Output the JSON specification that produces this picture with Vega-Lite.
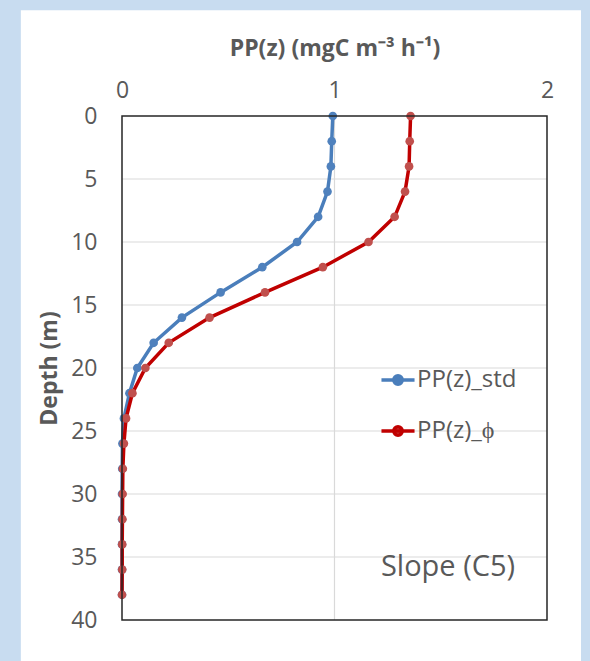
{
  "$schema": "https://vega.github.io/schema/vega-lite/v6.json",
  "width": 425,
  "height": 504,
  "autosize": "none",
  "padding": {"left": 122, "top": 116, "right": 43, "bottom": 41},
  "background": "#c8dcf0",
  "config": {
    "font": "Open Sans",
    "view": {"stroke": null, "fill": "white"},
    "axis": {"labelColor": "#595959", "titleColor": "#595959", "labelFontSize": 23, "ticks": false, "domain": false, "grid": false, "titleFontWeight": "bold", "labelOverlap": false},
    "legend": {"orient": "none", "legendX": 261, "legendY": 249, "direction": "vertical", "padding": 0, "labelFontSize": 24, "labelColor": "#595959", "labelFont": "Open Sans", "labelOffset": 4, "symbolType": "M-1.25,0H1.25M-0.32,0A0.32,0.32 0 1,1 0.32,0A0.32,0.32 0 1,1 -0.32,0Z", "symbolSize": 700, "symbolStrokeWidth": 3.5, "rowPadding": 24, "titlePadding": 0, "zindex": 1}
  },
  "datasets": {
    "profiles": [
      {"depth": 0, "pp": 0.992, "series": "PP(z)_std"},
      {"depth": 2, "pp": 0.987, "series": "PP(z)_std"},
      {"depth": 4, "pp": 0.983, "series": "PP(z)_std"},
      {"depth": 6, "pp": 0.967, "series": "PP(z)_std"},
      {"depth": 8, "pp": 0.923, "series": "PP(z)_std"},
      {"depth": 10, "pp": 0.824, "series": "PP(z)_std"},
      {"depth": 12, "pp": 0.660, "series": "PP(z)_std"},
      {"depth": 14, "pp": 0.464, "series": "PP(z)_std"},
      {"depth": 16, "pp": 0.282, "series": "PP(z)_std"},
      {"depth": 18, "pp": 0.149, "series": "PP(z)_std"},
      {"depth": 20, "pp": 0.072, "series": "PP(z)_std"},
      {"depth": 22, "pp": 0.035, "series": "PP(z)_std"},
      {"depth": 24, "pp": 0.009, "series": "PP(z)_std"},
      {"depth": 26, "pp": 0.002, "series": "PP(z)_std"},
      {"depth": 28, "pp": 0.001, "series": "PP(z)_std"},
      {"depth": 30, "pp": 0.0, "series": "PP(z)_std"},
      {"depth": 32, "pp": 0.0, "series": "PP(z)_std"},
      {"depth": 34, "pp": 0.0, "series": "PP(z)_std"},
      {"depth": 36, "pp": 0.0, "series": "PP(z)_std"},
      {"depth": 38, "pp": 0.0, "series": "PP(z)_std"},
      {"depth": 0, "pp": 1.358, "series": "PP(z)_ϕ"},
      {"depth": 2, "pp": 1.354, "series": "PP(z)_ϕ"},
      {"depth": 4, "pp": 1.351, "series": "PP(z)_ϕ"},
      {"depth": 6, "pp": 1.332, "series": "PP(z)_ϕ"},
      {"depth": 8, "pp": 1.283, "series": "PP(z)_ϕ"},
      {"depth": 10, "pp": 1.160, "series": "PP(z)_ϕ"},
      {"depth": 12, "pp": 0.945, "series": "PP(z)_ϕ"},
      {"depth": 14, "pp": 0.673, "series": "PP(z)_ϕ"},
      {"depth": 16, "pp": 0.412, "series": "PP(z)_ϕ"},
      {"depth": 18, "pp": 0.220, "series": "PP(z)_ϕ"},
      {"depth": 20, "pp": 0.110, "series": "PP(z)_ϕ"},
      {"depth": 22, "pp": 0.049, "series": "PP(z)_ϕ"},
      {"depth": 24, "pp": 0.019, "series": "PP(z)_ϕ"},
      {"depth": 26, "pp": 0.009, "series": "PP(z)_ϕ"},
      {"depth": 28, "pp": 0.004, "series": "PP(z)_ϕ"},
      {"depth": 30, "pp": 0.003, "series": "PP(z)_ϕ"},
      {"depth": 32, "pp": 0.002, "series": "PP(z)_ϕ"},
      {"depth": 34, "pp": 0.001, "series": "PP(z)_ϕ"},
      {"depth": 36, "pp": 0.001, "series": "PP(z)_ϕ"},
      {"depth": 38, "pp": 0.0, "series": "PP(z)_ϕ"}
    ]
  },
  "layer": [
    {
      "data": {"values": [{"panel": "bg"}]},
      "mark": {"type": "rect", "fill": "white"},
      "encoding": {
        "x": {"datum": -0.476, "type": "quantitative", "scale": {"domain": [0, 2], "nice": false, "zero": false}},
        "x2": {"datum": 2.16},
        "y": {"datum": -8.4, "type": "quantitative", "scale": {"domain": [0, 40], "reverse": true, "nice": false, "zero": false}},
        "y2": {"datum": 44}
      }
    },
    {
      "data": {"values": [{"depth": 5}, {"depth": 10}, {"depth": 15}, {"depth": 20}, {"depth": 25}, {"depth": 30}, {"depth": 35}]},
      "mark": {"type": "rule", "color": "#d9d9d9", "strokeWidth": 1.2},
      "encoding": {
        "y": {"field": "depth", "type": "quantitative"}
      }
    },
    {
      "data": {"values": [{"pp": 1}]},
      "mark": {"type": "rule", "color": "#d9d9d9", "strokeWidth": 1.2},
      "encoding": {
        "x": {"field": "pp", "type": "quantitative"}
      }
    },
    {
      "data": {"name": "profiles"},
      "transform": [{"filter": "datum.series === 'PP(z)_std'"}],
      "mark": {"type": "line", "strokeWidth": 3.5},
      "encoding": {
        "x": {"field": "pp", "type": "quantitative",
          "axis": {"orient": "top", "zindex": 1, "values": [0, 1, 2], "labelExpr": "'' + datum.value", "title": "PP(z) (mgC m⁻³ h⁻¹)", "titleFontSize": 23, "labelPadding": 14, "titlePadding": 19, "labelFlush": false, "labelOverlap": false}},
        "y": {"field": "depth", "type": "quantitative",
          "axis": {"zindex": 1, "values": [0, 5, 10, 15, 20, 25, 30, 35, 40], "title": "Depth (m)", "titleFontSize": 23, "labelPadding": 25, "titlePadding": 9, "labelOverlap": false}},
        "order": {"field": "depth"},
        "stroke": {"field": "series", "type": "nominal", "scale": {"domain": ["PP(z)_std", "PP(z)_ϕ"], "range": ["#4a7ebb", "#c00000"]}, "legend": {"title": null}}
      }
    },
    {
      "data": {"name": "profiles"},
      "transform": [{"filter": "datum.series === 'PP(z)_std'"}],
      "mark": {"type": "point", "filled": true, "size": 75, "opacity": 1},
      "encoding": {
        "x": {"field": "pp", "type": "quantitative"},
        "y": {"field": "depth", "type": "quantitative"},
        "fill": {"field": "series", "type": "nominal", "scale": {"domain": ["PP(z)_std", "PP(z)_ϕ"], "range": ["#4f81bd", "#c0504d"]}, "legend": {"title": null}}
      }
    },
    {
      "data": {"name": "profiles"},
      "transform": [{"filter": "datum.series === 'PP(z)_ϕ'"}],
      "mark": {"type": "line", "strokeWidth": 3.5},
      "encoding": {
        "x": {"field": "pp", "type": "quantitative"},
        "y": {"field": "depth", "type": "quantitative"},
        "order": {"field": "depth"},
        "stroke": {"field": "series", "type": "nominal", "legend": {"title": null}}
      }
    },
    {
      "data": {"name": "profiles"},
      "transform": [{"filter": "datum.series === 'PP(z)_ϕ'"}],
      "mark": {"type": "point", "filled": true, "size": 75, "opacity": 1},
      "encoding": {
        "x": {"field": "pp", "type": "quantitative"},
        "y": {"field": "depth", "type": "quantitative"},
        "fill": {"field": "series", "type": "nominal", "legend": {"title": null}}
      }
    },
    {
      "data": {"values": [{"frame": "plot"}]},
      "mark": {"type": "rect", "fill": null, "stroke": "#262626", "strokeWidth": 1.5},
      "encoding": {
        "x": {"datum": 0, "type": "quantitative"},
        "x2": {"datum": 2},
        "y": {"datum": 0, "type": "quantitative"},
        "y2": {"datum": 40}
      }
    },
    {
      "data": {"values": [{"label": "Slope (C5)"}]},
      "mark": {"type": "text", "align": "right", "baseline": "middle", "fontSize": 29, "color": "#595959", "font": "Open Sans"},
      "encoding": {
        "x": {"datum": 1.85, "type": "quantitative"},
        "y": {"datum": 35.8, "type": "quantitative"},
        "text": {"field": "label"}
      }
    }
  ]
}
